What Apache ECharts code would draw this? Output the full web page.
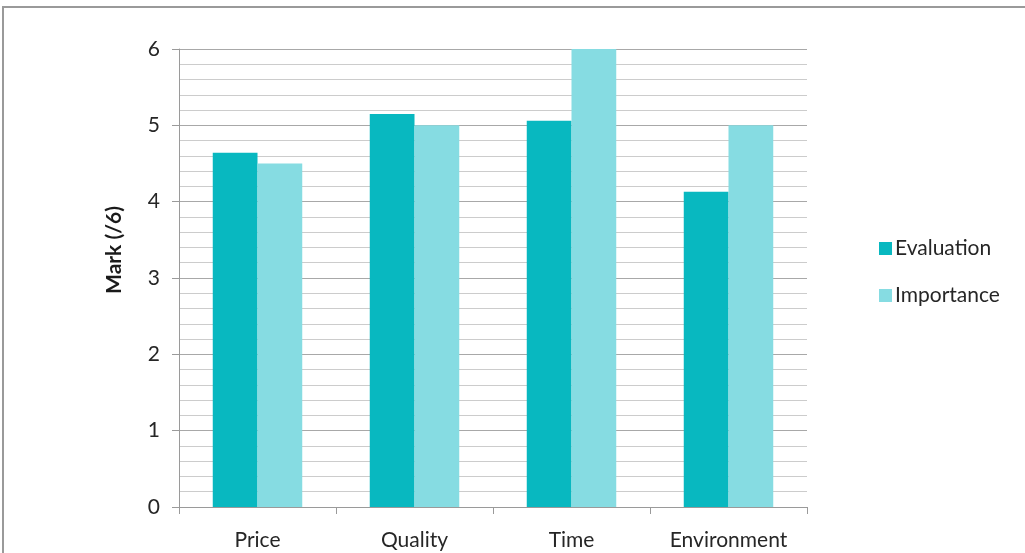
<!DOCTYPE html>
<html>
<head>
<meta charset="utf-8">
<script src="https://cdn.jsdelivr.net/npm/echarts@6/dist/echarts.min.js"></script>
<style>
  html, body { margin: 0; padding: 0; background: #ffffff; }
  #chart { width: 1025px; height: 553px; }
</style>
</head>
<body>
<div id="chart"></div>
<script>
// Survey criteria and their average marks out of 6
const categories = ['Price', 'Quality', 'Time', 'Environment'];
const evaluation = [4.64, 5.15, 5.06, 4.13];
const importance = [4.5, 5.0, 6.0, 5.0];
const yTicks = [0, 1, 2, 3, 4, 5, 6];

const FONT = 'Lato';
const chart = echarts.init(document.getElementById('chart'));

chart.setOption({
  backgroundColor: '#ffffff',
  animation: false,
  graphic: [
    {
      type: 'rect',
      shape: { x: 3, y: 7, width: 1100, height: 700 },
      style: { fill: 'none', stroke: '#9a9a9a', lineWidth: 2 },
      silent: true
    },
    {
      type: 'text',
      x: 114, y: 250,
      rotation: Math.PI / 2,
      style: {
        text: 'Mark (/6)',
        font: 'bold 21px ' + FONT,
        fill: '#1a1a1a',
        align: 'center',
        verticalAlign: 'middle'
      }
    }
  ],
  legend: {
    orient: 'vertical',
    left: 874,
    top: 233,
    itemWidth: 13,
    itemHeight: 13,
    itemGap: 26,
    icon: 'rect',
    textStyle: { fontFamily: FONT, fontSize: 21, color: '#262626', padding: [0, 0, 0, -2] },
    data: ['Evaluation', 'Importance']
  },
  grid: { left: 179, right: 218, top: 49, bottom: 46 },
  xAxis: {
    type: 'category',
    data: categories,
    axisLine: { show: true, lineStyle: { color: '#9a9a9a', width: 1 } },
    axisTick: { show: true, length: 7, lineStyle: { color: '#9a9a9a' } },
    axisLabel: { margin: 23, fontFamily: FONT, fontSize: 21, color: '#262626' }
  },
  yAxis: {
    type: 'value',
    min: yTicks[0],
    max: yTicks[yTicks.length - 1],
    interval: 1,
    axisLine: { show: true, lineStyle: { color: '#9a9a9a', width: 1 } },
    axisTick: { show: true, length: 7, lineStyle: { color: '#9a9a9a' } },
    axisLabel: { margin: 19, fontFamily: FONT, fontSize: 21, color: '#262626' },
    splitLine: { show: true, lineStyle: { color: '#a8a8a8', width: 1 } },
    minorTick: { show: false, splitNumber: 5 },
    minorSplitLine: { show: true, lineStyle: { color: '#cccccc', width: 1 } }
  },
  series: [
    {
      name: 'Evaluation',
      type: 'bar',
      data: evaluation,
      barGap: '0%',
      barCategoryGap: '43%',
      itemStyle: { color: '#08b8c0' }
    },
    {
      name: 'Importance',
      type: 'bar',
      data: importance,
      barGap: '0%',
      barCategoryGap: '43%',
      itemStyle: { color: '#86dce2' }
    }
  ]
});
</script>
</body>
</html>
